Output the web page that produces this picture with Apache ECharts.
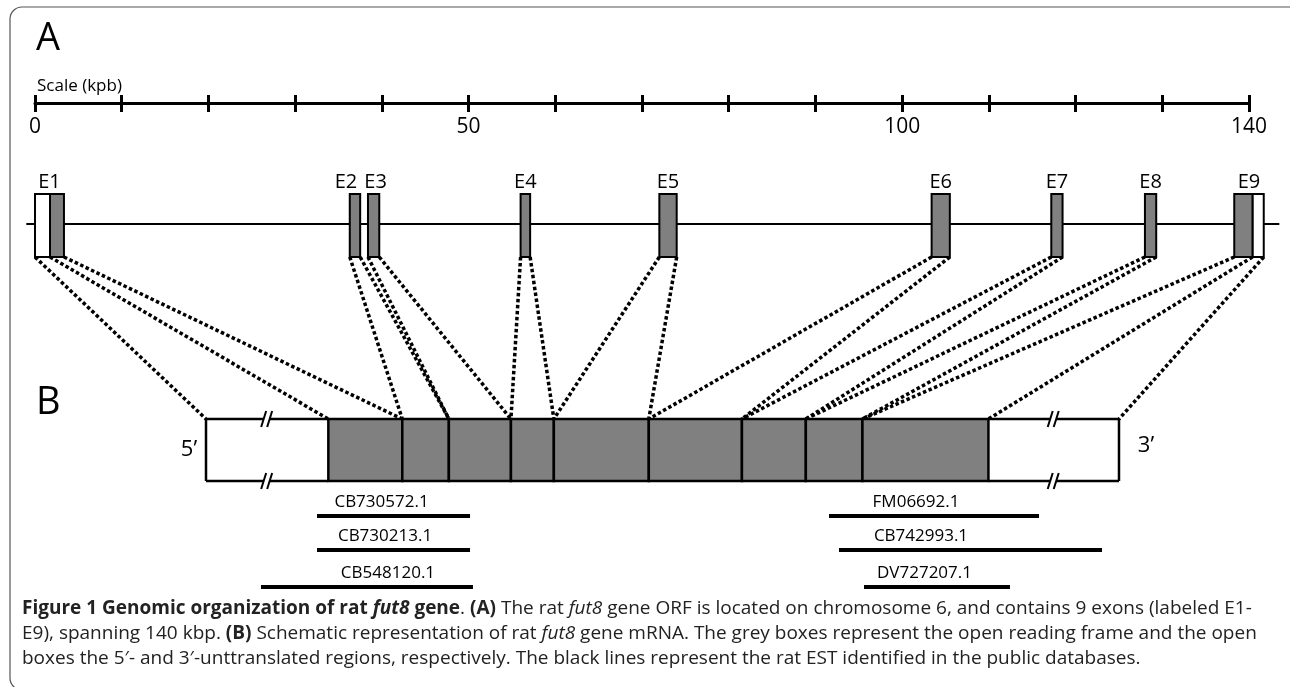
<!DOCTYPE html>
<html><head><meta charset="utf-8">
<script src="https://cdn.jsdelivr.net/npm/echarts@6/dist/echarts.min.js"></script>
<style>html,body{margin:0;padding:0;background:#fff}#c{width:1290px;height:687px}</style>
</head><body><div id="c"></div>
<script>
// ================= DATA =================
// Panel A: genomic scale (kbp)
const scaleLabels = [0, 50, 100, 140];
// exons: coding (grey) part, genomic position in kbp
const exonNames = ['E1', 'E2', 'E3', 'E4', 'E5', 'E6', 'E7', 'E8', 'E9'];
const exonStart = [1.73, 36.3, 38.4, 56.0, 72.0, 103.4, 117.2, 128.0, 138.3];
const exonEnd   = [3.34, 37.5, 39.7, 57.1, 74.0, 105.5, 118.5, 129.3, 140.4];
// untranslated parts of E1 / E9 (white)
const utr5Genomic = [0, 1.73];
const utr3Genomic = [140.4, 141.7];
// extent of the intron line
const geneSpan = [-1.0, 143.5];
// Panel B: mRNA schematic units (0 = 5' end, 100 = 3' end); segment boundaries
// [5'UTR | E1 | E2 | E3 | E4 | E5 | E6 | E7 | E8 | E9 | 3'UTR]
const mrnaBounds = [0, 13.4, 21.5, 26.6, 33.4, 38.1, 48.5, 58.7, 65.7, 71.9, 85.7, 100];
// ESTs on the mRNA (schematic units)
const estNames = ['CB730572.1', 'CB730213.1', 'CB548120.1', 'FM06692.1', 'CB742993.1', 'DV727207.1'];
const estStart = [12.16, 12.16, 6.02, 68.24, 69.33, 72.07];
const estEnd   = [28.92, 28.92, 29.24, 91.24, 98.14, 88.06];
const estRow   = [0, 1, 2, 0, 1, 2];

// ================= LAYOUT / STYLE =================
const L = {
  gridLeft: 35, gridRight: 41,
  kbpMin: 0, kbpMax: 140,
  mrnaMin: -18.73, mrnaMax: 114.24,
  scaleY: 103, tickDown: 9,
  trackY: 224, exonTop: 194, exonBottom: 257, exonLabelY: 182,
  exonLabelDx: [0, -9, 2, 0, 0, 0, 0, 0, 0],
  mrnaTop: 419, mrnaBottom: 481,
  estRowY: [516, 550, 587], estLabelDy: -14,
  estLabelDx: [-12, -8.5, 21, -18, -49.5, -12.5]
};
const FONT = '"Open Sans", "Noto Sans", sans-serif';
const GREY = '#808080';
const CAP = 19;

// ================= HELPERS =================
// map mRNA schematic units onto the kbp axis that shares the same grid
function mrnaToKbp(u) {
  return L.kbpMin + (u - L.mrnaMin) / (L.mrnaMax - L.mrnaMin) * (L.kbpMax - L.kbpMin);
}
const genomicSegs = [utr5Genomic].concat(exonStart.map((s, i) => [s, exonEnd[i]])).concat([utr3Genomic]);
const connData = [];
const seen = {};
genomicSegs.forEach((g, i) => {
  [[g[0], mrnaBounds[i]], [g[1], mrnaBounds[i + 1]]].forEach(p => {
    const k = p[0] + '_' + p[1];
    if (!seen[k]) { seen[k] = 1; connData.push(p); }
  });
});
const mrnaSegData = [];
for (let i = 0; i < mrnaBounds.length - 1; i++) {
  mrnaSegData.push([mrnaBounds[i], mrnaBounds[i + 1], i === 0 ? 0 : (i === mrnaBounds.length - 2 ? 2 : 1)]);
}

function breakMark(cx, cy) {
  return [
    { type: 'polygon', shape: { points: [[cx - 6, cy + 8], [cx - 1, cy - 8], [cx + 5, cy - 8], [cx, cy + 8]] }, style: { fill: '#fff' } },
    { type: 'line', shape: { x1: cx - 6, y1: cy + 8, x2: cx - 1, y2: cy - 8 }, style: { stroke: '#000', lineWidth: 2 } },
    { type: 'line', shape: { x1: cx, y1: cy + 8, x2: cx + 5, y2: cy - 8 }, style: { stroke: '#000', lineWidth: 2 } }
  ];
}

const chart = echarts.init(document.getElementById('c'));
const option = {
  animation: false,
  backgroundColor: '#fff',
  grid: [
    { left: L.gridLeft, right: L.gridRight, top: L.scaleY, height: L.tickDown, containLabel: false, outerBoundsMode: 'none' },
    { left: L.gridLeft, right: L.gridRight, top: 0, bottom: 0, containLabel: false, outerBoundsMode: 'none' }
  ],
  xAxis: [
    { gridIndex: 0, type: 'value', min: 0, max: 140, interval: 10, position: 'top',
      axisLine: { show: true, onZero: false, lineStyle: { color: '#000', width: 3 } },
      axisTick: { show: true, inside: false, length: 8, lineStyle: { color: '#000', width: 3 } },
      axisLabel: { show: true, inside: true, margin: 14, color: '#000', fontSize: 21, fontFamily: FONT,
        showMinLabel: true, showMaxLabel: true,
        formatter: v => scaleLabels.indexOf(v) >= 0 ? String(v) : '' },
      splitLine: { show: false } },
    { gridIndex: 0, type: 'value', min: 0, max: 140, interval: 10, position: 'bottom',
      axisLine: { show: false, onZero: false },
      axisTick: { show: true, inside: true, length: L.tickDown, lineStyle: { color: '#000', width: 3 } },
      axisLabel: { show: false }, splitLine: { show: false } },
    { gridIndex: 1, type: 'value', min: L.kbpMin, max: L.kbpMax, show: false },
    { gridIndex: 1, type: 'value', min: L.mrnaMin, max: L.mrnaMax, show: false }
  ],
  yAxis: [
    { gridIndex: 0, type: 'value', show: false, min: 0, max: 1 },
    { gridIndex: 1, type: 'value', show: false, min: 0, max: 687, inverse: true }
  ],
  series: [
    { // dotted connectors exon -> mRNA
      type: 'custom', xAxisIndex: 2, yAxisIndex: 1, clip: false, silent: true,
      data: connData,
      renderItem: (params, api) => {
        const a = api.coord([api.value(0), L.exonBottom]);
        const b = api.coord([mrnaToKbp(api.value(1)), L.mrnaTop]);
        return { type: 'line', shape: { x1: a[0], y1: a[1], x2: b[0], y2: b[1] },
          style: { stroke: '#000', lineWidth: 3.5, lineDash: [3.5, 2.5], lineCap: 'butt' } };
      }
    },
    { // intron line
      type: 'custom', xAxisIndex: 2, yAxisIndex: 1, clip: false, silent: true,
      data: [geneSpan],
      renderItem: (params, api) => {
        const a = api.coord([api.value(0), L.trackY]);
        const b = api.coord([api.value(1), L.trackY]);
        return { type: 'line', shape: { x1: a[0], y1: a[1], x2: b[0], y2: b[1] }, style: { stroke: '#000', lineWidth: 2 } };
      }
    },
    { // UTR parts of exons (white)
      type: 'custom', xAxisIndex: 2, yAxisIndex: 1, clip: false, silent: true,
      data: [utr5Genomic, utr3Genomic],
      renderItem: (params, api) => {
        const a = api.coord([api.value(0), L.exonTop]);
        const b = api.coord([api.value(1), L.exonBottom]);
        return { type: 'rect', shape: { x: a[0], y: a[1], width: b[0] - a[0], height: b[1] - a[1] },
          style: { fill: '#fff', stroke: '#000', lineWidth: 2 } };
      }
    },
    { // coding exons (grey) + labels
      type: 'custom', xAxisIndex: 2, yAxisIndex: 1, clip: false, silent: true,
      data: exonStart.map((s, i) => [s, exonEnd[i], i]),
      renderItem: (params, api) => {
        const i = api.value(2);
        const a = api.coord([api.value(0), L.exonTop]);
        const b = api.coord([api.value(1), L.exonBottom]);
        const fs = i === 0 ? utr5Genomic[0] : api.value(0);
        const fe = i === exonNames.length - 1 ? utr3Genomic[1] : api.value(1);
        const c = api.coord([(fs + fe) / 2, L.exonLabelY]);
        return { type: 'group', children: [
          { type: 'rect', shape: { x: a[0], y: a[1], width: b[0] - a[0], height: b[1] - a[1] },
            style: { fill: GREY, stroke: '#000', lineWidth: 2 } },
          { type: 'text', style: { text: exonNames[i], x: c[0] + L.exonLabelDx[i], y: c[1], align: 'center', verticalAlign: 'middle',
            fontSize: 20, fontFamily: FONT, fill: '#000' } }
        ] };
      }
    },
    { // mRNA schematic
      type: 'custom', xAxisIndex: 3, yAxisIndex: 1, clip: false, silent: true,
      data: mrnaSegData,
      renderItem: (params, api) => {
        const kind = api.value(2);
        const a = api.coord([api.value(0), L.mrnaTop]);
        const b = api.coord([api.value(1), L.mrnaBottom]);
        if (kind === 1) {
          return { type: 'rect', shape: { x: a[0], y: a[1], width: b[0] - a[0], height: b[1] - a[1] },
            style: { fill: GREY, stroke: '#000', lineWidth: 2.5 } };
        }
        const st = { stroke: '#000', lineWidth: 2.5 };
        const xe = kind === 0 ? a[0] : b[0];
        const mid = (a[0] + b[0]) / 2;
        return { type: 'group', children: [
          { type: 'line', shape: { x1: a[0], y1: a[1], x2: b[0], y2: a[1] }, style: st },
          { type: 'line', shape: { x1: a[0], y1: b[1], x2: b[0], y2: b[1] }, style: st },
          { type: 'line', shape: { x1: xe, y1: a[1], x2: xe, y2: b[1] }, style: st }
        ].concat(breakMark(mid, a[1])).concat(breakMark(mid, b[1])) };
      }
    },
    { // ESTs
      type: 'custom', xAxisIndex: 3, yAxisIndex: 1, clip: false, silent: true,
      data: estStart.map((s, i) => [s, estEnd[i], estRow[i], i]),
      renderItem: (params, api) => {
        const i = api.value(3);
        const y = L.estRowY[api.value(2)];
        const a = api.coord([api.value(0), y]);
        const b = api.coord([api.value(1), y]);
        return { type: 'group', children: [
          { type: 'line', shape: { x1: a[0], y1: a[1], x2: b[0], y2: b[1] }, style: { stroke: '#000', lineWidth: 4 } },
          { type: 'text', style: { text: estNames[i], x: (a[0] + b[0]) / 2 + L.estLabelDx[i], y: y + L.estLabelDy,
            align: 'center', verticalAlign: 'middle', fontSize: 17, fontFamily: FONT, fill: '#000' } }
        ] };
      }
    }
  ],
  graphic: [
    { type: 'rect', silent: true, z: -1, shape: { x: 10, y: 7, width: 1300, height: 683, r: 12 },
      style: { fill: 'none', stroke: '#555', lineWidth: 1.2 } },
    { type: 'text', style: { text: 'A', x: 36, y: 39, verticalAlign: 'middle', fontSize: 38, fontFamily: FONT, fill: '#000' } },
    { type: 'text', style: { text: 'Scale (kpb)', x: 37, y: 86, verticalAlign: 'middle', fontSize: 17, fontFamily: FONT, fill: '#000' } },
    { type: 'text', style: { text: 'B', x: 36, y: 403, verticalAlign: 'middle', fontSize: 38, fontFamily: FONT, fill: '#000' } },
    { type: 'text', style: { text: '5\u2019', x: 189, y: 450, align: 'center', verticalAlign: 'middle', fontSize: 22, fontFamily: FONT, fill: '#000' } },
    { type: 'text', style: { text: '3\u2019', x: 1146, y: 446, align: 'center', verticalAlign: 'middle', fontSize: 22, fontFamily: FONT, fill: '#000' } },
    { type: 'text', style: {
      x: 22, y: 596, verticalAlign: 'top',
      fontSize: CAP, fontFamily: FONT, fill: '#222', lineHeight: 25,
      text: '{b|Figure 1 Genomic organization of rat }{bi|fut8}{b| gene}. {b|(A)} The rat {i|fut8} gene ORF is located on chromosome 6, and contains 9 exons (labeled E1-\n' +
            'E9), spanning 140 kbp. {b|(B)} Schematic representation of rat {i|fut8} gene mRNA. The grey boxes represent the open reading frame and the open\n' +
            'boxes the 5\u2032- and 3\u2032-unttranslated regions, respectively. The black lines represent the rat EST identified in the public databases.',
      rich: {
        b: { fontWeight: 'bold', fontSize: CAP, fontFamily: FONT, fill: '#222', lineHeight: 25 },
        bi: { fontWeight: 'bold', fontStyle: 'italic', fontSize: CAP, fontFamily: FONT, fill: '#222', lineHeight: 25 },
        i: { fontStyle: 'italic', fontSize: CAP, fontFamily: FONT, fill: '#222', lineHeight: 25 }
      }
    } }
  ]
};
chart.setOption(option);
</script>
</body></html>
